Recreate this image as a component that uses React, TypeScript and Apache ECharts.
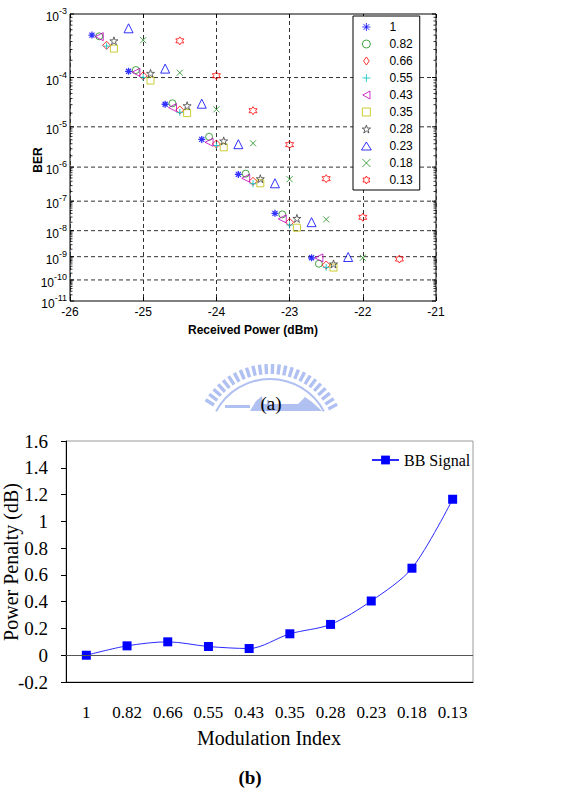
import { useEffect, useRef } from 'react';
import * as echarts from 'echarts';

// ---------- (a) BER vs received power, one series per modulation index ----------
const modIndex = ['1', '0.82', '0.66', '0.55', '0.43', '0.35', '0.28', '0.23', '0.18', '0.13'];

const power_100 = [-25.7, -25.2, -24.7, -24.2, -23.7, -23.2, -22.7];
const ber_100 = [5.0e-4, 1.29e-4, 3.06e-5, 5.1e-6, 6.3e-7, 4.0e-8, 9.0e-10];
const power_082 = [-25.6, -25.1, -24.6, -24.1, -23.6, -23.1, -22.6];
const ber_082 = [4.8e-4, 1.36e-4, 3.2e-5, 5.9e-6, 6.6e-7, 3.7e-8, 5.1e-10];
const power_066 = [-25.5, -25.0, -24.5, -24.0, -23.5, -23.0, -22.5];
const ber_066 = [3.5e-4, 1.07e-4, 2.33e-5, 3.95e-6, 4.0e-7, 1.98e-8, 4.5e-10];
const power_055 = [-25.5, -25.0, -24.5, -24.0, -23.5, -23.0, -22.5];
const ber_055 = [3.4e-4, 1.01e-4, 2.08e-5, 3.62e-6, 3.4e-7, 1.6e-8, 3.6e-10];
const power_043 = [-25.6, -25.1, -24.6, -24.1, -23.6, -23.1, -22.6];
const ber_043 = [4.74e-4, 1.24e-4, 2.61e-5, 4.35e-6, 4.9e-7, 2.6e-8, 8.9e-10];
const power_035 = [-25.4, -24.9, -24.4, -23.9, -23.4, -22.9, -22.4];
const ber_035 = [3.1e-4, 8.8e-5, 2.0e-5, 3.27e-6, 3.5e-7, 1.28e-8, 3.5e-10];
const power_028 = [-25.4, -24.9, -24.4, -23.9, -23.4, -22.9, -22.4];
const ber_028 = [4.1e-4, 1.19e-4, 2.86e-5, 4.7e-6, 4.75e-7, 2.7e-8, 5.0e-10];
const power_023 = [-25.2, -24.7, -24.2, -23.7, -23.2, -22.7, -22.2];
const ber_023 = [6.3e-4, 1.44e-4, 3.14e-5, 3.9e-6, 3.5e-7, 2.0e-8, 9.7e-10];
const power_018 = [-25.0, -24.5, -24.0, -23.5, -23.0, -22.5, -22.0];
const ber_018 = [4.2e-4, 1.22e-4, 2.4e-5, 4.1e-6, 4.6e-7, 2.5e-8, 9.0e-10];
const power_013 = [-24.5, -24.0, -23.5, -23.0, -22.5, -22.0, -21.5];
const ber_013 = [4.1e-4, 1.08e-4, 2.25e-5, 3.8e-6, 4.75e-7, 2.95e-8, 8.0e-10];

const powerAxis = [-26, -21]; // dBm range of the x axis
const berExponents = [3, 4, 5, 6, 7, 8, 9, 10, 11]; // tick labels 10^-n

// ---------- (b) power penalty vs modulation index ----------
const penaltyCategories = ['1', '0.82', '0.66', '0.55', '0.43', '0.35', '0.28', '0.23', '0.18', '0.13'];
const penaltyDb = [0, 0.07, 0.1, 0.065, 0.05, 0.16, 0.23, 0.405, 0.65, 1.165];
const penaltyAxis = [-0.2, 1.6, 0.2]; // min, max, step

const powers = [power_100, power_082, power_066, power_055, power_043, power_035, power_028, power_023, power_018, power_013];
const bers = [ber_100, ber_082, ber_066, ber_055, ber_043, ber_035, ber_028, ber_023, ber_018, ber_013];

// BER plotted on a log(-log) scale
const berScale = (ber: number) => Math.log10(-Math.log10(ber));

const SANS = 'Liberation Sans, Arial, sans-serif';
const SERIF = 'Liberation Serif, Times New Roman, serif';

const markers = [
  { symbol: 'path://M0,-1L0,1M-1,0L1,0M-0.72,-0.72L0.72,0.72M-0.72,0.72L0.72,-0.72', size: 7, color: '#0000ff', width: 1.3 },
  { symbol: 'path://M1,0A1,1,0,1,1,-1,0A1,1,0,1,1,1,0Z', size: 7, color: '#1a8c1a', width: 1 },
  { symbol: 'path://M0,-1.2L0.85,0L0,1.2L-0.85,0Z', size: 8, color: '#ff0000', width: 1 },
  { symbol: 'path://M0,-1L0,1M-1,0L1,0', size: 7, color: '#00bfbf', width: 1 },
  { symbol: 'path://M-1,0L0.8,-1L0.8,1Z', size: 8, color: '#bf00bf', width: 1 },
  { symbol: 'path://M-1,-1L1,-1L1,1L-1,1Z', size: 7, color: '#bfbf00', width: 1 },
  { symbol: 'path://M0,-1L0.2245,-0.309L0.951,-0.309L0.363,0.118L0.588,0.809L0,0.382L-0.588,0.809L-0.363,0.118L-0.951,-0.309L-0.2245,-0.309Z', size: 8, color: '#404040', width: 1 },
  { symbol: 'path://M0,-1L1.1,0.8L-1.1,0.8Z', size: 9, color: '#0000ff', width: 1 },
  { symbol: 'path://M-1,-1L1,1M-1,1L1,-1', size: 6, color: '#1a8c1a', width: 1 },
  { symbol: 'path://M0,-1L0.2887,-0.5L0.866,-0.5L0.577,0L0.866,0.5L0.2887,0.5L0,1L-0.2887,0.5L-0.866,0.5L-0.577,0L-0.866,-0.5L-0.2887,-0.5Z', size: 8, color: '#ff0000', width: 1 },
];

export default function App() {
  const ref = useRef<HTMLDivElement>(null);

  useEffect(() => {
    if (!ref.current) return;
    const chart = echarts.init(ref.current, null, { renderer: 'svg' });

    const ctx = document.createElement('canvas').getContext('2d')!;
    const textWidth = (t: string, font: string) => {
      ctx.font = font;
      return ctx.measureText(t).width;
    };

    const scatterSeries = modIndex.map((name, i) => ({
      type: 'scatter',
      name,
      xAxisIndex: 0,
      yAxisIndex: 0,
      z: 4,
      symbol: markers[i].symbol,
      symbolSize: markers[i].size,
      itemStyle: { color: 'rgba(0,0,0,0)', borderColor: markers[i].color, borderWidth: markers[i].width },
      emphasis: { disabled: true },
      data: powers[i].map((p, j) => [p, berScale(bers[i][j])]),
    }));

    // dashed BER grid lines, ticks and 10^-n labels on the log(-log) axis
    const berAxisSeries = {
      type: 'custom',
      xAxisIndex: 0,
      yAxisIndex: 0,
      z: 2,
      silent: true,
      clip: false,
      data: berExponents.map((n) => [powerAxis[0], Math.log10(n), n]),
      renderItem: (_params: any, api: any) => {
        const n = api.value(2) as number;
        const v = Math.log10(n);
        const l = api.coord([powerAxis[0], v]);
        const r = api.coord([powerAxis[1], v]);
        const children: any[] = [];
        if (n > berExponents[0] && n < berExponents[berExponents.length - 1]) {
          children.push({
            type: 'line',
            shape: { x1: l[0], y1: l[1], x2: r[0], y2: r[1] },
            style: { stroke: '#333', lineWidth: 1, lineDash: [4, 3] },
          });
        }
        children.push({ type: 'line', shape: { x1: l[0], y1: l[1], x2: l[0] + 4, y2: l[1] }, style: { stroke: '#000', lineWidth: 1 } });
        children.push({ type: 'line', shape: { x1: r[0] - 4, y1: r[1], x2: r[0], y2: r[1] }, style: { stroke: '#000', lineWidth: 1 } });
        if (n < berExponents[berExponents.length - 1]) {
          for (let m = 2; m <= 9; m++) {
            const mv = Math.log10(n + 1 - Math.log10(m));
            const p = api.coord([powerAxis[0], mv]);
            const q = api.coord([powerAxis[1], mv]);
            children.push({ type: 'line', shape: { x1: p[0], y1: p[1], x2: p[0] + 2.5, y2: p[1] }, style: { stroke: '#000', lineWidth: 0.8 } });
            children.push({ type: 'line', shape: { x1: q[0] - 2.5, y1: q[1], x2: q[0], y2: q[1] }, style: { stroke: '#000', lineWidth: 0.8 } });
          }
        }
        const sup = '-' + n;
        const supW = textWidth(sup, `9px ${SANS}`);
        const right = l[0] - 3;
        children.push({
          type: 'text',
          x: right - supW,
          y: l[1] + 3,
          style: { text: '10', fontSize: 12, fontFamily: SANS, fill: '#000', align: 'right', verticalAlign: 'middle' },
        });
        children.push({
          type: 'text',
          x: right - supW,
          y: l[1] - 3,
          style: { text: sup, fontSize: 9, fontFamily: SANS, fill: '#000', align: 'left', verticalAlign: 'middle' },
        });
        return { type: 'group', children };
      },
    };

    // faint seal watermark behind caption (a)
    const sealColor = 'rgba(110,140,230,0.55)';
    const sealCx = 270;
    const sealCy = 440;
    const teeth: any[] = [];
    for (let a = 28; a <= 152; a += 5) {
      const rad = (a * Math.PI) / 180;
      teeth.push({
        type: 'rect',
        x: sealCx + 71 * Math.cos(rad),
        y: sealCy - 71 * Math.sin(rad),
        rotation: rad - Math.PI / 2,
        shape: { x: -1.7, y: -5, width: 3.4, height: 10 },
        style: { fill: sealColor },
        silent: true,
      });
    }

    const option: any = {
      animation: false,
      backgroundColor: '#fff',
      grid: [
        { left: 70, top: 14, width: 366, height: 287, show: true, borderColor: '#000', borderWidth: 1, backgroundColor: 'rgba(0,0,0,0)' },
        { left: 66, top: 441, width: 407, height: 241, show: true, borderColor: '#9a9a9a', borderWidth: 1, backgroundColor: 'rgba(0,0,0,0)' },
      ],
      legend: [
        {
          orient: 'vertical',
          left: 353,
          top: 16,
          padding: [4, 7, 3, 8],
          itemGap: 3,
          itemWidth: 36,
          itemHeight: 8,
          symbolKeepAspect: true,
          backgroundColor: '#fff',
          borderColor: '#000',
          borderWidth: 1,
          selectedMode: false,
          data: modIndex,
          itemStyle: { borderWidth: 1 },
          textStyle: { fontFamily: SANS, fontSize: 12, color: '#000', lineHeight: 14 },
        },
        {
          left: 371,
          top: 451,
          padding: 0,
          itemWidth: 27,
          itemHeight: 11,
          selectedMode: false,
          data: ['BB Signal'],
          textStyle: { fontFamily: SERIF, fontSize: 16, color: '#000', lineHeight: 18 },
        },
      ],
      xAxis: [
        {
          type: 'value',
          gridIndex: 0,
          min: powerAxis[0],
          max: powerAxis[1],
          interval: 1,
          axisLine: { show: false },
          axisTick: { show: true, inside: true, length: 4, lineStyle: { color: '#000' } },
          axisLabel: { margin: 5, fontFamily: SANS, fontSize: 12, color: '#000' },
          splitLine: { show: true, lineStyle: { color: '#333', type: [4, 3], width: 1 } },
        },
        {
          type: 'value',
          gridIndex: 0,
          position: 'top',
          min: powerAxis[0],
          max: powerAxis[1],
          interval: 1,
          axisLine: { show: false },
          axisTick: { show: true, inside: true, length: 4, lineStyle: { color: '#000' } },
          axisLabel: { show: false },
          splitLine: { show: false },
        },
        {
          type: 'category',
          gridIndex: 1,
          data: penaltyCategories,
          boundaryGap: true,
          axisLine: { show: true, onZero: false, lineStyle: { color: '#000', width: 1 } },
          axisTick: { show: false },
          axisLabel: { interval: 0, margin: 22, fontFamily: SERIF, fontSize: 17, color: '#000' },
          splitLine: { show: false },
        },
      ],
      yAxis: [
        {
          type: 'value',
          gridIndex: 0,
          inverse: true,
          min: Math.log10(berExponents[0]),
          max: Math.log10(berExponents[berExponents.length - 1]),
          axisLine: { show: false },
          axisTick: { show: false },
          axisLabel: { show: false },
          splitLine: { show: false },
        },
        {
          type: 'value',
          gridIndex: 1,
          min: penaltyAxis[0],
          max: penaltyAxis[1],
          interval: penaltyAxis[2],
          axisLine: { show: true, lineStyle: { color: '#000', width: 1 } },
          axisTick: { show: true, inside: false, length: 5, lineStyle: { color: '#000' } },
          axisLabel: {
            margin: 18,
            fontFamily: SERIF,
            fontSize: 19,
            color: '#000',
            formatter: (v: number) => String(Math.round(v * 10) / 10),
          },
          splitLine: { show: false },
        },
      ],
      series: [
        berAxisSeries,
        ...scatterSeries,
        {
          type: 'line',
          name: 'BB Signal',
          xAxisIndex: 2,
          yAxisIndex: 1,
          data: penaltyDb,
          smooth: 0.3,
          symbol: 'rect',
          symbolSize: 9,
          z: 4,
          itemStyle: { color: '#0000ff' },
          lineStyle: { color: '#2a2aff', width: 1 },
          emphasis: { disabled: true },
          markLine: {
            silent: true,
            symbol: 'none',
            label: { show: false },
            lineStyle: { color: '#555', width: 1.2, type: 'solid' },
            data: [{ yAxis: 0 }],
          },
        },
      ],
      graphic: [
        {
          type: 'group',
          silent: true,
          z: 0,
          children: [
            ...teeth,
            {
              type: 'arc',
              shape: { cx: sealCx, cy: sealCy, r: 61, startAngle: (-152 * Math.PI) / 180, endAngle: (-28 * Math.PI) / 180, clockwise: true },
              style: { stroke: sealColor, lineWidth: 2, fill: 'none' },
            },
            { type: 'rect', shape: { x: 225, y: 405, width: 25, height: 3 }, style: { fill: sealColor } },
            {
              type: 'polygon',
              shape: { points: [[250, 411], [256, 401], [262, 396], [263, 404], [298, 404], [305, 397], [312, 402], [322, 411]] },
              style: { fill: sealColor },
            },
            { type: 'rect', shape: { x: 267, y: 400, width: 2, height: 11 }, style: { fill: sealColor } },
          ],
        },
        {
          type: 'text',
          x: 37.5,
          y: 160,
          rotation: Math.PI / 2,
          style: { text: 'BER', fontFamily: SANS, fontSize: 12, fontWeight: 'bold', fill: '#000', align: 'center', verticalAlign: 'middle' },
        },
        {
          type: 'text',
          x: 253,
          y: 330,
          style: { text: 'Received Power (dBm)', fontFamily: SANS, fontSize: 12, fontWeight: 'bold', fill: '#000', align: 'center', verticalAlign: 'middle' },
        },
        {
          type: 'text',
          x: 271,
          y: 403,
          z: 10,
          style: { text: '(a)', fontFamily: SERIF, fontSize: 19, fill: '#000', align: 'center', verticalAlign: 'middle' },
        },
        {
          type: 'text',
          x: 11,
          y: 562,
          rotation: Math.PI / 2,
          style: { text: 'Power Penalty (dB)', fontFamily: SERIF, fontSize: 20, fill: '#000', align: 'center', verticalAlign: 'middle' },
        },
        {
          type: 'text',
          x: 269,
          y: 738,
          style: { text: 'Modulation Index', fontFamily: SERIF, fontSize: 20, fill: '#000', align: 'center', verticalAlign: 'middle' },
        },
        {
          type: 'text',
          x: 250,
          y: 777,
          style: { text: '(b)', fontFamily: SERIF, fontSize: 19, fontWeight: 'bold', fill: '#000', align: 'center', verticalAlign: 'middle' },
        },
      ],
    };

    chart.setOption(option);
    return () => chart.dispose();
  }, []);

  return <div ref={ref} style={{ position: 'fixed', left: 0, top: 0, width: 567, height: 808, background: '#fff' }} />;
}
